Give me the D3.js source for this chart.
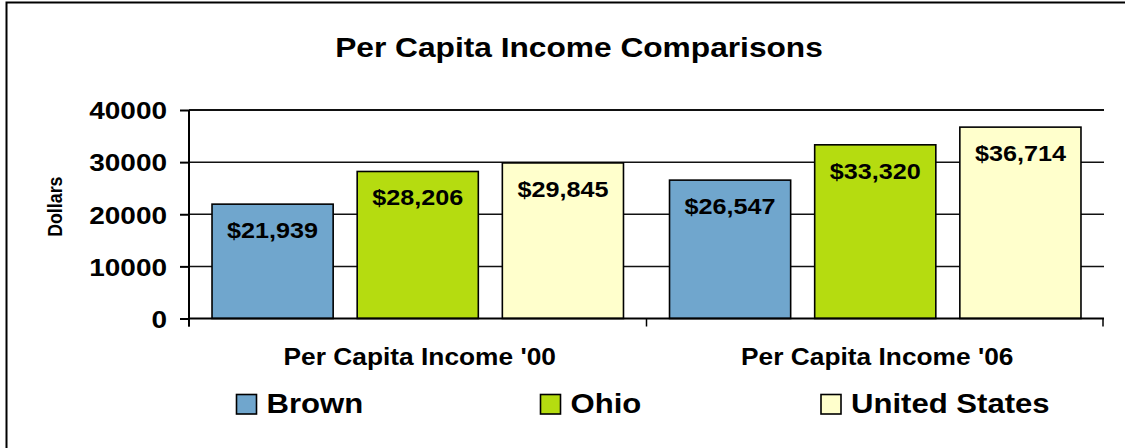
<!DOCTYPE html>
<html>
<head>
<meta charset="utf-8">
<script src="https://cdn.jsdelivr.net/npm/d3@7"></script>
<style>
  html, body { margin: 0; padding: 0; background: #fff; }
  svg { display: block; }
  text { font-family: "Liberation Sans", Arial, sans-serif; font-weight: bold; fill: #000; }
</style>
</head>
<body>
<svg id="chart" width="1125" height="448"></svg>
<script>
// ---- data ----
const categories = ["Per Capita Income '00", "Per Capita Income '06"];
const seriesNames = ["Brown", "Ohio", "United States"];
const brownValues = [21939, 26547];
const ohioValues = [28206, 33320];
const usValues = [29845, 36714];
const yTickValues = [0, 10000, 20000, 30000, 40000];
const seriesColors = ["#70A6CD", "#B5DC10", "#FFFFCC"];
const titleText = "Per Capita Income Comparisons";
const yAxisTitle = "Dollars";

const seriesValues = [brownValues, ohioValues, usValues];

// ---- layout ----
const svg = d3.select("#chart");
const plot = { left: 189, right: 1104, top: 110, bottom: 318.5 };

// outer border (right/bottom edges lie outside the picture)
svg.append("rect")
  .attr("x", 6.5).attr("y", 2.5).attr("width", 1140).attr("height", 470)
  .attr("fill", "#fff").attr("stroke", "#000").attr("stroke-width", 2);

const y = d3.scaleLinear().domain([0, 40000]).range([plot.bottom, plot.top]);
const x0 = d3.scaleBand().domain(categories).range([plot.left, plot.right]).padding(0);
const x1 = d3.scaleBand().domain(seriesNames).range([0, x0.bandwidth()])
  .paddingInner(0.1655).paddingOuter(0.1586);

function stretchedText(g, x, yPos, str, size, sx, anchor) {
  return g.append("text")
    .attr("transform", `translate(${x},${yPos}) scale(${sx},1)`)
    .attr("text-anchor", anchor)
    .style("font-size", size + "px")
    .text(str);
}

// gridlines
svg.append("g").selectAll("line").data(yTickValues.filter(d => d > 0)).join("line")
  .attr("x1", plot.left).attr("x2", plot.right)
  .attr("y1", d => y(d)).attr("y2", d => y(d))
  .attr("stroke", "#111").attr("stroke-width", d => d === 40000 ? 2 : 1.5);

// bars
const groups = svg.append("g").selectAll("g").data(categories).join("g")
  .attr("transform", d => `translate(${x0(d)},0)`);

groups.each(function(cat, ci) {
  const g = d3.select(this);
  seriesNames.forEach((s, si) => {
    const v = seriesValues[si][ci];
    g.append("rect")
      .attr("x", x1(s)).attr("y", y(v))
      .attr("width", x1.bandwidth()).attr("height", y(0) - y(v))
      .attr("fill", seriesColors[si]).attr("stroke", "#000").attr("stroke-width", 1.6);
    stretchedText(g, x1(s) + x1.bandwidth() / 2, y(v) + 34, d3.format("$,")(v), 22.5, 1.12, "middle");
  });
});

// y axis
const yAxis = svg.append("g").attr("transform", `translate(${plot.left},0)`)
  .call(d3.axisLeft(y).tickValues(yTickValues).tickSize(9).tickFormat(""));
yAxis.select(".domain").remove();
yAxis.selectAll(".tick line").attr("stroke", "#000").attr("stroke-width", 2);
svg.append("line").attr("x1", plot.left).attr("x2", plot.left)
  .attr("y1", plot.top).attr("y2", plot.bottom + 8)
  .attr("stroke", "#000").attr("stroke-width", 2);
yTickValues.forEach(v => {
  stretchedText(svg, 167, y(v) + 9.3, String(v), 23.3, 1.2, "end");
});

// x axis
svg.append("line").attr("x1", plot.left).attr("x2", plot.right)
  .attr("y1", plot.bottom).attr("y2", plot.bottom)
  .attr("stroke", "#000").attr("stroke-width", 2);
const catTicks = categories.map(c => x0(c)).concat([plot.right - 1]);
svg.append("g").selectAll("line").data(catTicks).join("line")
  .attr("x1", d => d).attr("x2", d => d)
  .attr("y1", plot.bottom).attr("y2", plot.bottom + 8)
  .attr("stroke", "#000").attr("stroke-width", 1.5);
categories.forEach(c => {
  stretchedText(svg, x0(c) + x0.bandwidth() / 2 + 2, 365, c, 23.5, 1.12, "middle");
});

// title
stretchedText(svg, 579, 57.3, titleText, 27.4, 1.157, "middle");

// y axis title
svg.append("text")
  .attr("transform", `translate(61.5,206.7) rotate(-90) scale(1,1.15)`)
  .attr("text-anchor", "middle")
  .style("font-size", "17.8px")
  .text(yAxisTitle);

// legend
const legendX = [236.5, 540.5, 821];
seriesNames.forEach((s, i) => {
  svg.append("rect")
    .attr("x", legendX[i]).attr("y", 394.5).attr("width", 20).attr("height", 19.5)
    .attr("fill", seriesColors[i]).attr("stroke", "#000").attr("stroke-width", 1.6);
  stretchedText(svg, legendX[i] + 30, 413.3, s, 28, 1.11, "start");
});
</script>
</body>
</html>
